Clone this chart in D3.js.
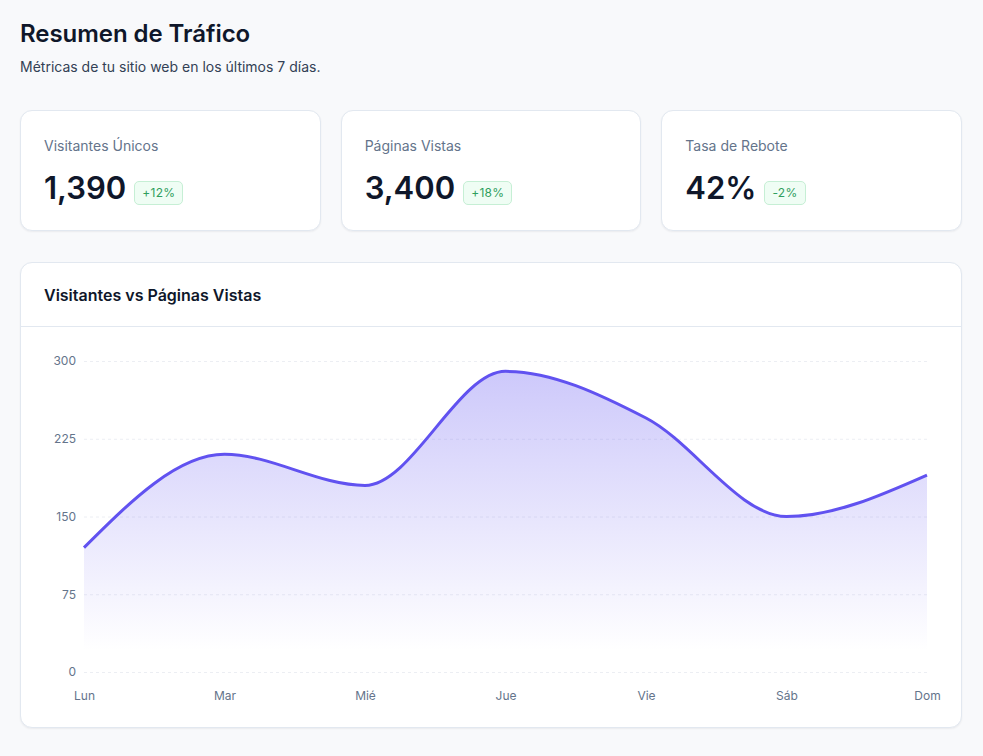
<!DOCTYPE html>
<html lang="es">
<head>
<meta charset="utf-8">
<title>Resumen de Tráfico</title>
<script src="https://cdn.jsdelivr.net/npm/d3@7"></script>
<style>
  * { box-sizing: border-box; }
  body {
    margin: 0;
    padding: 20px 21px 20px 20px;
    background: #f8f9fb;
    font-family: Inter, "Noto Sans", sans-serif;
    color: #0f172a;
  }
  h1 { margin: 0; font-size: 24px; font-weight: 600; line-height: 28px; letter-spacing: -0.05px; }
  .sub { margin: 10px 0 0; font-size: 14px; color: #334155; }
  .cards { display: flex; gap: 20px; margin-top: 35px; }
  .card {
    flex: 1; height: 121px; background: #fff;
    border: 1px solid #e2e8f0; border-radius: 12px;
    box-shadow: 0 1px 2px rgba(15, 23, 42, 0.06);
    padding: 25px 23px 0;
  }
  .label { font-size: 14px; color: #64748b; line-height: 20px; }
  .row { display: flex; align-items: flex-start; margin-top: 14px; }
  .value { font-size: 31px; font-weight: 600; line-height: 36px; }
  .badge {
    margin-left: 8px; margin-top: 11px; font-size: 12px; color: #2f9e5e;
    background: #effdf4; border: 1px solid #c6efd5; border-radius: 5px;
    padding: 3px 7px; line-height: 16px; letter-spacing: 0.3px;
  }
  .chart-card {
    margin-top: 31px; background: #fff; border: 1px solid #e2e8f0;
    border-radius: 12px; box-shadow: 0 1px 2px rgba(15, 23, 42, 0.06);
    overflow: hidden;
  }
  .chart-head {
    height: 64px; border-bottom: 1px solid #e2e8f0;
    padding: 22px 23px 0; font-size: 16px; font-weight: 600;
  }
  svg { display: block; }
</style>
</head>
<body>
<h1>Resumen de Tráfico</h1>
<p class="sub">Métricas de tu sitio web en los últimos 7 días.</p>
<div class="cards" id="cards"></div>
<div class="chart-card">
  <div class="chart-head">Visitantes vs Páginas Vistas</div>
  <div id="chart"></div>
</div>
<script>
const statLabels = ['Visitantes Únicos', 'Páginas Vistas', 'Tasa de Rebote'];
const statValues = ['1,390', '3,400', '42%'];
const statChanges = ['+12%', '+18%', '-2%'];

const days = ['Lun', 'Mar', 'Mié', 'Jue', 'Vie', 'Sáb', 'Dom'];
const visitors = [120, 210, 180, 290, 245, 150, 190];
const yTicks = [0, 75, 150, 225, 300];

// stat cards
const cards = d3.select('#cards').selectAll('.card')
  .data(statLabels)
  .enter()
  .append('div')
  .attr('class', 'card');

cards.append('div').attr('class', 'label').text(d => d);
const rows = cards.append('div').attr('class', 'row');
rows.append('div').attr('class', 'value').text((d, i) => statValues[i]);
rows.append('div').attr('class', 'badge').text((d, i) => statChanges[i]);

// chart
const width = 940, height = 400;
const margin = { top: 34, right: 34, bottom: 55, left: 63 };

const svg = d3.select('#chart')
  .append('svg')
  .attr('width', width)
  .attr('height', height);

const x = d3.scalePoint()
  .domain(days)
  .range([margin.left, width - margin.right]);

const y = d3.scaleLinear()
  .domain([0, 300])
  .range([height - margin.bottom, margin.top]);

const defs = svg.append('defs');
const grad = defs.append('linearGradient')
  .attr('id', 'areaFill')
  .attr('x1', 0).attr('y1', 0).attr('x2', 0).attr('y2', 1);
grad.append('stop').attr('offset', '0%').attr('stop-color', '#6355f1').attr('stop-opacity', 0.32);
grad.append('stop').attr('offset', '93%').attr('stop-color', '#6355f1').attr('stop-opacity', 0);

// grid lines
svg.append('g')
  .selectAll('line')
  .data(yTicks)
  .enter()
  .append('line')
  .attr('x1', margin.left)
  .attr('x2', width - margin.right)
  .attr('y1', d => y(d) + 0.5)
  .attr('y2', d => y(d) + 0.5)
  .style('stroke', '#eceef3')
  .style('stroke-width', 1)
  .style('stroke-dasharray', '3 3');

// y axis
const yAxis = svg.append('g')
  .attr('transform', `translate(${margin.left - 8},0)`)
  .call(d3.axisLeft(y).tickValues(yTicks).tickSize(0).tickPadding(0));
yAxis.select('.domain').remove();
yAxis.selectAll('text')
  .style('font-family', 'Inter, sans-serif')
  .style('font-size', '12px')
  .style('fill', '#64748b');

// x axis
const xAxis = svg.append('g')
  .attr('transform', `translate(0,${height - margin.bottom + 19})`)
  .call(d3.axisBottom(x).tickSize(0).tickPadding(0));
xAxis.select('.domain').remove();
xAxis.selectAll('text')
  .style('font-family', 'Inter, sans-serif')
  .style('font-size', '12px')
  .style('fill', '#64748b');

const area = d3.area()
  .x((d, i) => x(days[i]))
  .y0(y(0))
  .y1(d => y(d))
  .curve(d3.curveMonotoneX);

const line = d3.line()
  .x((d, i) => x(days[i]))
  .y(d => y(d))
  .curve(d3.curveMonotoneX);

svg.append('path')
  .datum(visitors)
  .attr('d', area)
  .style('fill', 'url(#areaFill)');

svg.append('path')
  .datum(visitors)
  .attr('d', line)
  .style('fill', 'none')
  .style('stroke', '#6152f0')
  .style('stroke-width', 3);
</script>
</body>
</html>
